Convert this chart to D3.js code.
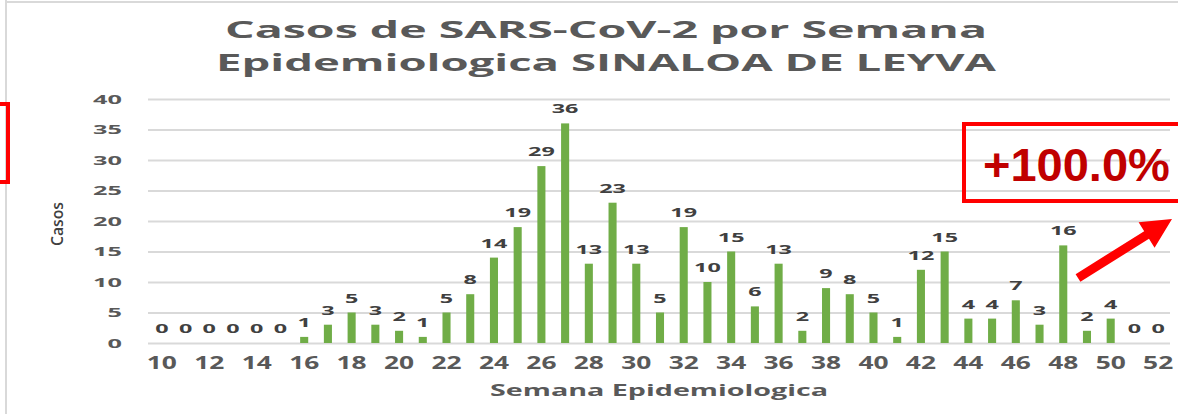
<!DOCTYPE html>
<html>
<head>
<meta charset="utf-8">
<script src="https://cdn.jsdelivr.net/npm/d3@7"></script>
<style>
  body { margin: 0; background: #fff; }
  svg { display: block; }
</style>
</head>
<body>
<svg width="1178" height="414"></svg>
<script>
// semanas epidemiologicas y casos por semana
const weeks = d3.range(10, 53)
const cases = [0, 0, 0, 0, 0, 0, 1, 3, 5, 3, 2, 1, 5, 8, 14, 19, 29, 36, 13, 23,
  13, 5, 19, 10, 15, 6, 13, 2, 9, 8, 5, 1, 12, 15, 4, 4, 7, 3, 16, 2, 4, 0, 0]
const xTicks = weeks.filter(function (w) { return w % 2 === 0 })
const yTicks = [0, 5, 10, 15, 20, 25, 30, 35, 40]
const titleLines = ['Casos de SARS-CoV-2 por Semana', 'Epidemiologica SINALOA DE LEYVA']
const xTitle = 'Semana Epidemiologica'
const yTitle = 'Casos'
const changeLabel = '+100.0%'

var svg = d3.select('svg')
var font = '"Open Sans", "DejaVu Sans", sans-serif'

svg.append('rect').attr('width', 1178).attr('height', 414).attr('fill', '#fff')

// marco gris de la captura
svg.append('line').attr('x1', 6).attr('x2', 6).attr('y1', 0).attr('y2', 414)
  .attr('stroke', '#d9d9d9').attr('stroke-width', 2)
svg.append('line').attr('x1', 6).attr('x2', 1178).attr('y1', 2).attr('y2', 2)
  .attr('stroke', '#d9d9d9').attr('stroke-width', 2)

var x = d3.scaleBand().domain(weeks).range([150, 1170]).paddingInner(0.66).paddingOuter(0.33)
var y = d3.scaleLinear().domain([0, 40]).range([343, 99])

// grid + y axis
var yAxis = svg.append('g')
  .attr('transform', 'translate(148,0)')
  .call(d3.axisLeft(y).tickValues(yTicks).tickSize(-1022).tickPadding(0))
yAxis.select('.domain').remove()
yAxis.selectAll('.tick line').attr('stroke', '#d9d9d9').attr('stroke-width', 2)
yAxis.selectAll('.tick text')
  .attr('x', null).attr('dy', null).attr('y', 4)
  .attr('transform', 'translate(-26,0) scale(2.2,1)')
  .attr('text-anchor', 'end')
  .style('font-family', font).style('font-weight', 700).style('font-size', '11.5px')
  .attr('fill', '#595959')

// x axis labels
var xAxis = svg.append('g')
  .attr('transform', 'translate(0,343)')
  .call(d3.axisBottom(x).tickValues(xTicks).tickSize(0))
xAxis.select('.domain').remove()
xAxis.selectAll('.tick text')
  .attr('y', 26).attr('dy', null)
  .attr('transform', 'scale(1.55,1)')
  .style('font-family', font).style('font-weight', 700).style('font-size', '17px')
  .attr('fill', '#595959')

// barras
svg.append('g').selectAll('rect')
  .data(cases)
  .join('rect')
  .attr('x', function (d, i) { return x(weeks[i]) })
  .attr('width', x.bandwidth())
  .attr('y', function (d) { return y(d) })
  .attr('height', function (d) { return y(0) - y(d) })
  .attr('fill', '#70ad47')

// etiquetas de datos
svg.append('g').selectAll('text')
  .data(cases)
  .join('text')
  .attr('transform', function (d, i) {
    return 'translate(' + (x(weeks[i]) + x.bandwidth() / 2) + ',' + (y(d) - 10) + ') scale(1.95,1)'
  })
  .attr('text-anchor', 'middle')
  .style('font-family', font).style('font-weight', 700).style('font-size', '12px')
  .attr('fill', '#404040')
  .text(function (d) { return d })

// titulos
var titleLens = [762, 780]
svg.append('g').selectAll('text')
  .data(titleLines)
  .join('text')
  .attr('x', 606)
  .attr('y', function (d, i) { return 38 + i * 33 })
  .attr('text-anchor', 'middle')
  .attr('textLength', function (d, i) { return titleLens[i] })
  .attr('lengthAdjust', 'spacingAndGlyphs')
  .style('font-family', font).style('font-weight', 700).style('font-size', '24px')
  .attr('fill', '#595959')
  .text(function (d) { return d })

svg.append('text')
  .attr('x', 659).attr('y', 396)
  .attr('text-anchor', 'middle')
  .attr('textLength', 338).attr('lengthAdjust', 'spacingAndGlyphs')
  .style('font-family', font).style('font-weight', 700).style('font-size', '16px')
  .attr('fill', '#595959')
  .text(xTitle)

svg.append('text')
  .attr('transform', 'translate(63,224) scale(1.25,1) rotate(-90)')
  .attr('text-anchor', 'middle')
  .attr('textLength', 44).attr('lengthAdjust', 'spacingAndGlyphs')
  .style('font-family', font).style('font-weight', 600).style('font-size', '13px')
  .attr('fill', '#404040')
  .text(yTitle)

// anotaciones en rojo
svg.append('rect').attr('x', -6).attr('y', 104).attr('width', 14).attr('height', 78)
  .attr('fill', 'none').attr('stroke', '#ff0000').attr('stroke-width', 4)
svg.append('rect').attr('x', 964).attr('y', 124).attr('width', 240).attr('height', 77)
  .attr('fill', 'none').attr('stroke', '#ff0000').attr('stroke-width', 4)
svg.append('text')
  .attr('x', 983).attr('y', 181)
  .style('font-family', '"Liberation Sans", Arial, sans-serif').style('font-weight', 700)
  .style('font-size', '47px')
  .attr('fill', '#c00000')
  .text(changeLabel)

function arrow (node, x1, y1, x2, y2, w, headLen, headW, color) {
  var dx = x2 - x1
  var dy = y2 - y1
  var len = Math.sqrt(dx * dx + dy * dy)
  var ux = dx / len
  var uy = dy / len
  var nx = -uy
  var ny = ux
  var bx = x2 - ux * headLen
  var by = y2 - uy * headLen
  var pts = [
    [x1 + nx * w, y1 + ny * w],
    [bx + nx * w, by + ny * w],
    [bx + nx * headW, by + ny * headW],
    [x2, y2],
    [bx - nx * headW, by - ny * headW],
    [bx - nx * w, by - ny * w],
    [x1 - nx * w, y1 - ny * w]
  ]
  return node.append('polygon')
    .attr('points', pts.map(function (p) { return p.join(',') }).join(' '))
    .attr('fill', color)
}

arrow(svg, 1078, 278, 1172, 219, 4.5, 30, 15, '#ff0000')
</script>
</body>
</html>
